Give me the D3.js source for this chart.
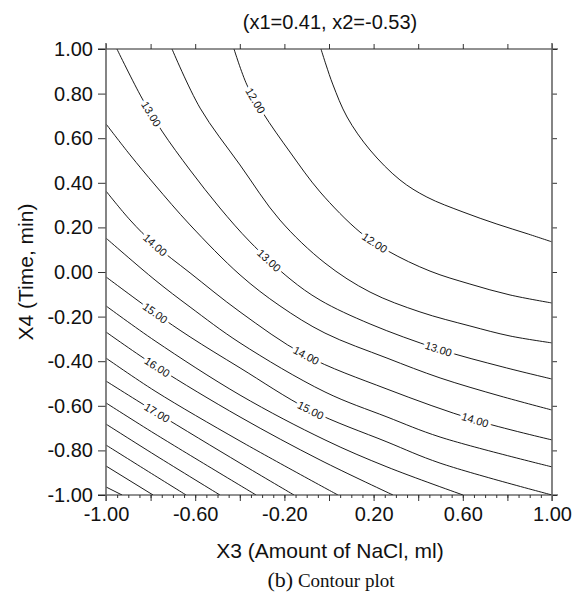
<!DOCTYPE html>
<html>
<head>
<meta charset="utf-8">
<script src="https://cdn.jsdelivr.net/npm/d3@7"></script>
<style>
body { margin: 0; background: #fff; }
svg { display: block; }
text { font-family: "Liberation Sans", Arial, Helvetica, sans-serif; fill: #111; }
</style>
</head>
<body>
<svg id="chart" width="578" height="601"></svg>
<script>
// contour levels and the (x3, x4) points
const levels = [11.5, 12, 12.5, 13, 13.5, 14, 14.5, 15, 15.5, 16, 16.5, 17, 17.5, 18, 18.5, 19, 19.5];

const contourLines = [
    [[-0.036,1],[-0.013,0.928],[0.018,0.839],[0.081,0.695],[0.184,0.547],[0.318,0.413],[0.439,0.336],[0.601,0.269],[0.753,0.215],[0.888,0.172],[1,0.135]],
    [[-0.426,1],[-0.368,0.839],[-0.296,0.713],[-0.175,0.538],[-0.040,0.359],[0.139,0.179],[0.265,0.094],[0.453,0.004],[0.632,-0.054],[0.812,-0.103],[1,-0.139]],
    [[-0.704,1],[-0.578,0.735],[-0.399,0.480],[-0.220,0.233],[-0.018,0.040],[0.184,-0.090],[0.408,-0.179],[0.632,-0.242],[0.812,-0.287],[1,-0.318]],
    [[-0.951,1],[-0.839,0.780],[-0.749,0.632],[-0.623,0.457],[-0.489,0.287],[-0.354,0.135],[-0.175,-0.031],[-0.040,-0.126],[0.184,-0.233],[0.489,-0.345],[0.780,-0.426],[1,-0.480]],
    [[-1,0.664],[-0.892,0.525],[-0.780,0.390],[-0.623,0.211],[-0.399,-0.013],[-0.220,-0.152],[-0.018,-0.274],[0.260,-0.386],[0.498,-0.475],[0.767,-0.556],[1,-0.619]],
    [[-1,0.363],[-0.892,0.233],[-0.780,0.121],[-0.623,-0.004],[-0.399,-0.179],[-0.108,-0.372],[0.260,-0.525],[0.655,-0.664],[1,-0.753]],
    [[-1,0.152],[-0.780,-0.036],[-0.623,-0.157],[-0.399,-0.318],[-0.018,-0.538],[0.260,-0.650],[0.498,-0.740],[1,-0.874]],
    [[-1,-0.022],[-0.780,-0.184],[-0.623,-0.291],[-0.399,-0.430],[-0.085,-0.619],[0.260,-0.762],[0.498,-0.857],[1,-1]],
    [[-1,-0.152],[-0.780,-0.309],[-0.399,-0.552],[-0.018,-0.753],[0.260,-0.874],[0.601,-1]],
    [[-1,-0.269],[-0.771,-0.426],[-0.399,-0.650],[-0.040,-0.843],[0.287,-1]],
    [[-1,-0.386],[-0.780,-0.534],[-0.399,-0.758],[0.040,-1]],
    [[-1,-0.489],[-0.771,-0.632],[-0.399,-0.857],[-0.157,-1]],
    [[-1,-0.587],[-0.780,-0.726],[-0.327,-1]],
    [[-1,-0.682],[-0.780,-0.821],[-0.489,-1]],
    [[-1,-0.776],[-0.821,-0.888],[-0.641,-1]],
    [[-1,-0.870],[-0.789,-1]],
    [[-1,-0.964],[-0.928,-1]]
];

// labelled levels and roughly where their labels sit
const labelLevels = [13, 12, 14, 13, 12, 15, 14, 16, 15, 17, 13, 14];
const labelAt = [
    [-0.798,0.709],[-0.332,0.767],[-0.780,0.121],[-0.274,0.045],[0.206,0.130],[-0.780,-0.184],
    [-0.103,-0.377],[-0.771,-0.426],[-0.081,-0.619],[-0.771,-0.632],[0.489,-0.350],[0.655,-0.664]
];

const axisTicks = [-1, -0.8, -0.6, -0.4, -0.2, 0, 0.2, 0.4, 0.6, 0.8, 1];
const xLabelTicks = [-1, -0.6, -0.2, 0.2, 0.6, 1];

const chartTitle = "(x1=0.41, x2=-0.53)";
const xTitle = "X3 (Amount of NaCl, ml)";
const yTitle = "X4 (Time, min)";

let svg = d3.select("#chart");
let margin = {top: 49, right: 26, bottom: 106, left: 106};
let width = 578 - margin.left - margin.right;
let height = 601 - margin.top - margin.bottom;
let g = svg.append("g").attr("transform", "translate(" + margin.left + "," + margin.top + ")");

let fmt = d3.formatLocale({decimal: ".", thousands: ",", grouping: [3], currency: ["", ""], minus: "-"}).format(".2f");

let x = d3.scaleLinear().domain([-1, 1]).range([0, width]);
let y = d3.scaleLinear().domain([-1, 1]).range([height, 0]);

svg.append("defs").append("clipPath").attr("id", "plotclip")
    .append("rect").attr("width", width).attr("height", height);

let line = d3.line()
    .x(d => x(d[0]))
    .y(d => y(d[1]))
    .curve(d3.curveCatmullRom.alpha(0.5));

let paths = g.append("g")
    .attr("clip-path", "url(#plotclip)")
    .selectAll("path")
    .data(contourLines)
    .join("path")
    .attr("d", line)
    .attr("fill", "none")
    .attr("stroke", "#000")
    .attr("stroke-width", 0.9);

// labels: snap to nearest point of the line and follow its direction
let labelLayer = g.append("g");
labelLevels.forEach((lev, i) => {
    let node = paths.nodes()[levels.indexOf(lev)];
    let total = node.getTotalLength();
    let tx = x(labelAt[i][0]), ty = y(labelAt[i][1]);
    let best = 0, bestD = Infinity;
    for (let s = 0; s <= total; s += 0.5) {
        let p = node.getPointAtLength(s);
        let dd = (p.x - tx) * (p.x - tx) + (p.y - ty) * (p.y - ty);
        if (dd < bestD) { bestD = dd; best = s; }
    }
    let p0 = node.getPointAtLength(Math.max(0, best - 8));
    let p1 = node.getPointAtLength(Math.min(total, best + 8));
    let pc = node.getPointAtLength(best);
    let ang = Math.atan2(p1.y - p0.y, p1.x - p0.x) * 180 / Math.PI;
    labelLayer.append("text")
        .attr("transform", "translate(" + pc.x + "," + pc.y + ") rotate(" + ang + ")")
        .attr("text-anchor", "middle")
        .attr("dy", "0.35em")
        .attr("font-size", 11)
        .attr("stroke", "#fff")
        .attr("stroke-width", 6)
        .attr("stroke-linejoin", "round")
        .attr("paint-order", "stroke")
        .text(fmt(lev));
});

// axes
let axLeft = g.append("g")
    .call(d3.axisLeft(y).tickValues(axisTicks).tickSize(8).tickPadding(5).tickFormat(fmt));
let axTop = g.append("g")
    .call(d3.axisTop(x).tickValues(axisTicks).tickSize(5).tickFormat(""));
let axRight = g.append("g").attr("transform", "translate(" + width + ",0)")
    .call(d3.axisRight(y).tickValues(axisTicks).tickSize(5).tickFormat(""));
let axMinor = g.append("g").attr("transform", "translate(0," + height + ")")
    .call(d3.axisBottom(x).ticks(40).tickSize(3).tickFormat(""));
let axBottom = g.append("g").attr("transform", "translate(0," + height + ")")
    .call(d3.axisBottom(x).tickValues(axisTicks).tickSize(6).tickPadding(6)
        .tickFormat(d => xLabelTicks.includes(d) ? fmt(d) : ""));

[axLeft, axTop, axRight, axMinor, axBottom].forEach(a => {
    a.select(".domain").remove();
    a.selectAll(".tick line").attr("stroke", "#333");
    a.selectAll("text").attr("font-size", 20).attr("fill", "#111");
});

// frame, running a little past the corners
let frame = g.append("g").attr("fill", "none");
frame.append("line").attr("x1", -8).attr("x2", width + 6).attr("y1", 0).attr("y2", 0).attr("stroke", "#222");
frame.append("line").attr("x1", -8).attr("x2", width + 6).attr("y1", height).attr("y2", height).attr("stroke", "#222");
frame.append("line").attr("x1", 0).attr("x2", 0).attr("y1", -6).attr("y2", height + 6).attr("stroke", "#666").attr("stroke-width", 1.6);
frame.append("line").attr("x1", width).attr("x2", width).attr("y1", -6).attr("y2", height + 6).attr("stroke", "#666").attr("stroke-width", 1.6);

// titles
svg.append("text").attr("x", 330).attr("y", 29).attr("text-anchor", "middle")
    .attr("font-size", 20).text(chartTitle);
svg.append("text").attr("x", 330).attr("y", 558).attr("text-anchor", "middle")
    .attr("font-size", 21).text(xTitle);
svg.append("text").attr("transform", "translate(33,272) rotate(-90)").attr("text-anchor", "middle")
    .attr("font-size", 21).text(yTitle);

let caption = svg.append("text").attr("x", 331).attr("y", 587).attr("text-anchor", "middle")
    .style("font-family", "'Liberation Serif', 'Times New Roman', serif");
caption.append("tspan").attr("font-size", 22).text("(b)");
caption.append("tspan").attr("font-size", 19).text(" Contour plot");
</script>
</body>
</html>
